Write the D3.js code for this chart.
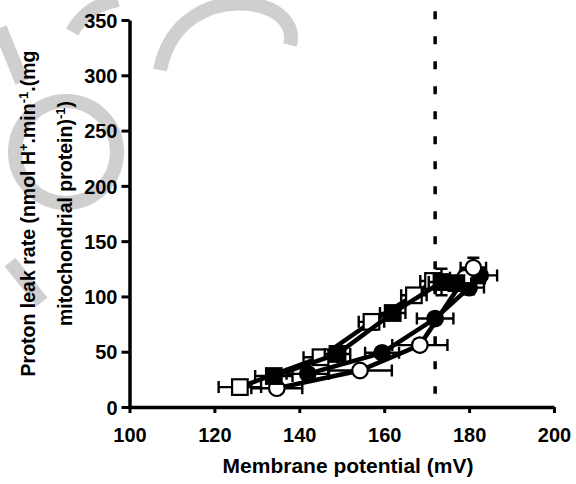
<!DOCTYPE html>
<html>
<head>
<meta charset="utf-8">
<script src="https://d3js.org/d3.v7.min.js"></script>
<style>
  body { margin: 0; background: #fff; }
  svg text { font-family: "Liberation Sans", Arial, sans-serif; font-weight: bold; fill: #000; }
</style>
</head>
<body>
<div id="chart"></div>
<script>
// Tick values
const xTicks = [100, 120, 140, 160, 180, 200];
const yTicks = [0, 50, 100, 150, 200, 250, 300, 350];

// Series: membrane potential (mV), proton leak rate, errors
const openSqX   = [126, 145, 157, 167, 171.5];
const openSqY   = [18, 45, 77, 101, 114];
const openSqXe  = [5, 4, 3, 3, 3];
const openSqYe  = [3, 4, 7, 6, 6];

const fillSqX   = [134, 149, 162, 173.5, 177];
const fillSqY   = [28, 48, 85, 113, 112];
const fillSqXe  = [4.4, 3, 3, 3, 3.5];
const fillSqYe  = [3, 4, 5, 12, 6];

const fillCiX   = [142, 159.5, 172, 180, 182.6];
const fillCiY   = [30, 49, 80, 108, 119];
const fillCiXe  = [5, 4, 4.3, 3.5, 4];
const fillCiYe  = [3, 4, 5, 6, 7];

const openCiX   = [134.7, 154.3, 168.4, 179, 181];
const openCiY   = [17, 33, 56, 117, 126];
const openCiXe  = [6, 7.5, 6.5, 3.5, 3];
const openCiYe  = [3, 4, 5, 6, 9];

const refLineX = 172;

const width = 576, height = 484;
const svg = d3.select('#chart').append('svg')
    .attr('width', width)
    .attr('height', height);

// Faint watermark strokes in the background
const wm = svg.append('g')
    .attr('fill', 'none')
    .attr('stroke', '#cfcfcf')
    .attr('stroke-width', 14);
wm.append('circle').attr('cx', 66).attr('cy', 152).attr('r', 51);
wm.append('path').attr('d', 'M72,32 C85,10 100,4 118,0');
wm.append('path').attr('d', 'M160,70 C170,20 210,0 250,4 C280,8 295,25 290,45');
wm.append('path').attr('d', 'M0,28 L22,82');
wm.append('path').attr('d', 'M10,262 L42,302');

const x = d3.scaleLinear().domain([100, 200]).range([129.5, 554]);
const y = d3.scaleLinear().domain([0, 350]).range([407, 20]);

// Axes
const xAxis = svg.append('g')
    .attr('transform', `translate(0,${y(0)})`)
    .call(d3.axisBottom(x).tickValues(xTicks).tickSize(6).tickSizeOuter(0).tickPadding(15));
const yAxis = svg.append('g')
    .attr('transform', `translate(${x(100)},0)`)
    .call(d3.axisLeft(y).tickValues(yTicks).tickSize(8).tickSizeOuter(0).tickPadding(4));

[xAxis, yAxis].forEach(ax => {
    ax.select('.domain').attr('stroke', '#000').attr('stroke-width', 3.5);
    ax.selectAll('.tick line').attr('stroke', '#000').attr('stroke-width', 3);
    ax.selectAll('.tick text')
        .style('font-size', '20px')
        .style('font-family', '"Liberation Sans", Arial, sans-serif')
        .style('font-weight', 'bold');
});
yAxis.selectAll('.tick text').attr('dy', '0.36em');

// Reference dashed line
svg.append('line')
    .attr('x1', x(refLineX)).attr('x2', x(refLineX))
    .attr('y1', y(358)).attr('y2', y(12))
    .attr('stroke', '#000')
    .attr('stroke-width', 3.5)
    .attr('stroke-dasharray', '8,17');

// Axis titles
svg.append('text')
    .attr('x', 348).attr('y', 473)
    .attr('text-anchor', 'middle')
    .style('font-size', '21px')
    .text('Membrane potential (mV)');

const yTitle = svg.append('text')
    .attr('transform', `translate(35,${(y(0) + y(350)) / 2}) rotate(-90)`)
    .attr('text-anchor', 'middle')
    .style('font-size', '19.5px');
const l1 = yTitle.append('tspan').attr('x', 0).attr('y', 0);
l1.append('tspan').text('Proton leak rate (nmol H');
l1.append('tspan').attr('dy', -7).style('font-size', '13px').text('+');
l1.append('tspan').attr('dy', 7).text('.min');
l1.append('tspan').attr('dy', -7).style('font-size', '13px').text('-1');
l1.append('tspan').attr('dy', 7).text('.(mg');
const l2 = yTitle.append('tspan').attr('x', 0).attr('y', 37);
l2.append('tspan').text('mitochondrial protein)');
l2.append('tspan').attr('dy', -7).style('font-size', '13px').text('-1');
l2.append('tspan').attr('dy', 7).text(')');

const series = [
    { xs: fillCiX, ys: fillCiY, xe: fillCiXe, ye: fillCiYe, shape: 'circle', fill: '#000' },
    { xs: openCiX, ys: openCiY, xe: openCiXe, ye: openCiYe, shape: 'circle', fill: '#fff' },
    { xs: openSqX, ys: openSqY, xe: openSqXe, ye: openSqYe, shape: 'square', fill: '#fff' },
    { xs: fillSqX, ys: fillSqY, xe: fillSqXe, ye: fillSqYe, shape: 'square', fill: '#000' },
];

const line = d3.line().x(d => x(d.x)).y(d => y(d.y));
const cap = 6;

series.forEach(s => {
    const pts = s.xs.map((v, i) => ({ x: v, y: s.ys[i], xe: s.xe[i], ye: s.ye[i] }));
    const g = svg.append('g');

    g.append('path')
        .datum(pts)
        .attr('d', line)
        .attr('fill', 'none')
        .attr('stroke', '#000')
        .attr('stroke-width', 4.5);

    const eb = g.append('g').attr('stroke', '#000').attr('stroke-width', 2.4).attr('fill', 'none');
    pts.forEach(p => {
        const cx = x(p.x), cy = y(p.y);
        const x0 = x(p.x - p.xe), x1 = x(p.x + p.xe);
        const y0 = y(p.y - p.ye), y1 = y(p.y + p.ye);
        eb.append('path').attr('d',
            `M${x0},${cy}H${x1}M${x0},${cy - cap}V${cy + cap}M${x1},${cy - cap}V${cy + cap}` +
            `M${cx},${y0}V${y1}M${cx - cap},${y0}H${cx + cap}M${cx - cap},${y1}H${cx + cap}`);
    });

    if (s.shape === 'circle') {
        g.selectAll('circle.pt').data(pts).enter().append('circle')
            .attr('class', 'pt')
            .attr('cx', d => x(d.x)).attr('cy', d => y(d.y))
            .attr('r', 7.8)
            .attr('fill', s.fill).attr('stroke', '#000').attr('stroke-width', 2.2);
    } else {
        g.selectAll('rect.pt').data(pts).enter().append('rect')
            .attr('class', 'pt')
            .attr('x', d => x(d.x) - 7.8).attr('y', d => y(d.y) - 7.8)
            .attr('width', 15.6).attr('height', 15.6)
            .attr('fill', s.fill).attr('stroke', '#000').attr('stroke-width', 2.2);
    }
});
</script>
</body>
</html>
